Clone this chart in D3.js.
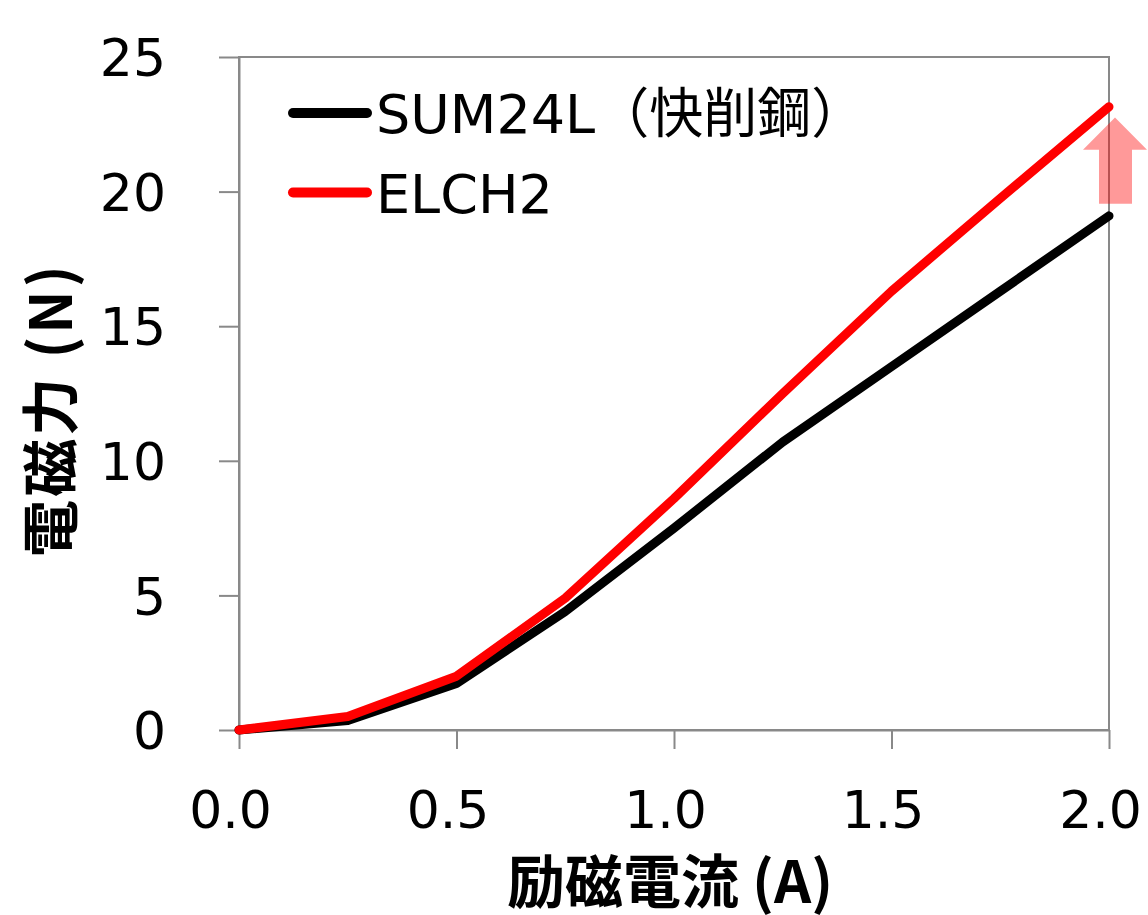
<!DOCTYPE html>
<html>
<head>
<meta charset="utf-8" />
<script src="https://cdn.jsdelivr.net/npm/d3@7"></script>
<style>
	body { margin: 0; background: #fff; }
	.tick text { font-family: "DejaVu Sans", Verdana, sans-serif; font-size: 52px; fill: #000; }
	.legendtext { font-family: "DejaVu Sans", "Noto Sans CJK JP", sans-serif; font-size: 54px; fill: #000; }
	.axistitle { font-family: "Noto Sans CJK JP", sans-serif; font-size: 58px; font-weight: bold; fill: #000; }
</style>
</head>
<body>
<script>
	var width = 1148;
	var height = 915;

	// excitation current (A)
	var current = [0, 0.25, 0.5, 0.75, 1.0, 1.25, 1.5, 1.75, 2.0];
	// electromagnetic force (N)
	var sum24l = [0, 0.35, 1.73, 4.4, 7.5, 10.7, 13.5, 16.3, 19.1];
	var elch2 = [0, 0.5, 2.0, 4.9, 8.6, 12.5, 16.3, 19.75, 23.15];

	var seriesNames = ["SUM24L（快削鋼）", "ELCH2"];
	var seriesColors = ["#000000", "#ff0000"];
	var xTicks = [0, 0.5, 1.0, 1.5, 2.0];
	var yTicks = [0, 5, 10, 15, 20, 25];

	var plotLeft = 239, plotRight = 1109, plotTop = 57, plotBottom = 730;

	var x = d3.scaleLinear().domain([0, 2]).range([plotLeft, plotRight]);
	var y = d3.scaleLinear().domain([0, 25]).range([plotBottom, plotTop]);

	var svg = d3.select("body").append("svg")
		.attr("width", width)
		.attr("height", height);

	svg.append("rect").attr("width", width).attr("height", height).attr("fill", "white");

	// plot border
	svg.append("rect")
		.attr("x", plotLeft).attr("y", plotTop)
		.attr("width", plotRight - plotLeft).attr("height", plotBottom - plotTop)
		.attr("fill", "none").attr("stroke", "#898989").attr("stroke-width", 2);

	var xAxis = svg.append("g")
		.attr("transform", "translate(0," + plotBottom + ")")
		.call(d3.axisBottom(x).tickValues(xTicks).tickFormat(d3.format(".1f")).tickSize(19).tickSizeOuter(0));
	xAxis.selectAll("text").attr("dx", -9).attr("y", 98).attr("dy", 0);

	var yAxis = svg.append("g")
		.attr("transform", "translate(" + plotLeft + ",0)")
		.call(d3.axisLeft(y).tickValues(yTicks).tickSize(20).tickSizeOuter(0));
	yAxis.selectAll("text").attr("x", -73).attr("dy", "0.36em");

	svg.selectAll(".domain").attr("stroke", "#898989").attr("stroke-width", 2);
	svg.selectAll(".tick line").attr("stroke", "#898989").attr("stroke-width", 2);

	var line = d3.line()
		.x(function(d) { return x(d[0]); })
		.y(function(d) { return y(d[1]); });

	[sum24l, elch2].forEach(function(vals, i) {
		svg.append("path")
			.datum(current.map(function(c, j) { return [c, vals[j]]; }))
			.attr("d", line)
			.attr("fill", "none")
			.attr("stroke", seriesColors[i])
			.attr("stroke-width", 9)
			.attr("stroke-linejoin", "round")
			.attr("stroke-linecap", "round");
	});

	// legend
	var legendY = [113, 192.5];
	seriesNames.forEach(function(name, i) {
		svg.append("line")
			.attr("x1", 293).attr("x2", 367)
			.attr("y1", legendY[i]).attr("y2", legendY[i])
			.attr("stroke", seriesColors[i])
			.attr("stroke-width", 10)
			.attr("stroke-linecap", "round");
		svg.append("text")
			.attr("class", "legendtext")
			.attr("x", 376)
			.attr("y", legendY[i] + 20)
			.text(name);
	});

	// upward arrow beside the ELCH2 end point
	var ax = x(2.0) + 6;
	var tipY = y(22.75), baseY = y(21.55), endY = y(19.55);
	svg.append("path")
		.attr("d", "M" + ax + "," + tipY +
			"L" + (ax + 32) + "," + baseY +
			"L" + (ax + 17) + "," + baseY +
			"L" + (ax + 17) + "," + endY +
			"L" + (ax - 16) + "," + endY +
			"L" + (ax - 16) + "," + baseY +
			"L" + (ax - 32) + "," + baseY + "Z")
		.attr("fill", "#ff0000")
		.attr("fill-opacity", 0.4);

	// axis titles
	svg.append("text")
		.attr("class", "axistitle")
		.attr("x", 670).attr("y", 878)
		.attr("text-anchor", "middle")
		.attr("dominant-baseline", "central")
		.text("励磁電流 (A)");

	svg.append("text")
		.attr("class", "axistitle")
		.attr("transform", "translate(47,410) rotate(-90)")
		.attr("text-anchor", "middle")
		.attr("dominant-baseline", "central")
		.attr("letter-spacing", 3)
		.text("電磁力 (N)");
</script>
</body>
</html>
